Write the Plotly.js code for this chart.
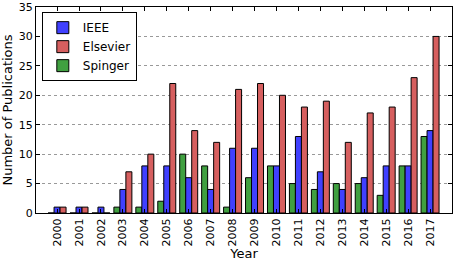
<!DOCTYPE html>
<html>
<head>
<meta charset="utf-8">
<script src="https://cdn.plot.ly/plotly-3.0.1.min.js"></script>
<style>
  html, body { margin: 0; padding: 0; background: #fff; }
  #chart { width: 454px; height: 262px; }
</style>
</head>
<body>
<div id="chart"></div>
<script>
var years = ['2000', '2001', '2002', '2003', '2004', '2005', '2006', '2007', '2008',
             '2009', '2010', '2011', '2012', '2013', '2014', '2015', '2016', '2017'];
var ieee = [1, 1, 1, 4, 8, 8, 6, 4, 11, 11, 8, 13, 7, 4, 6, 8, 8, 14];
var elsevier = [1, 1, 0, 7, 10, 22, 14, 12, 21, 22, 20, 18, 19, 12, 17, 18, 23, 30];
var springer = [0, 0, 0, 1, 1, 2, 10, 8, 1, 6, 8, 5, 4, 5, 5, 3, 8, 13];
var yTicks = [0, 5, 10, 15, 20, 25, 30, 35];

var font = 'DejaVu Sans, sans-serif';

// springer drawn first so it sits on the left of each group
var data = [{
    type: 'bar', name: 'Spinger', x: years, y: springer, legendrank: 3,
    marker: {color: '#40a040', line: {color: '#000', width: 1}}
}, {
    type: 'bar', name: 'IEEE', x: years, y: ieee, legendrank: 1,
    marker: {color: '#4040ff', line: {color: '#000', width: 1}}
}, {
    type: 'bar', name: 'Elsevier', x: years, y: elsevier, legendrank: 2,
    marker: {color: '#d65f5f', line: {color: '#000', width: 1}}
}];

var layout = {
    width: 454, height: 262,
    margin: {l: 36, r: 2, t: 7, b: 49},
    paper_bgcolor: '#fff', plot_bgcolor: '#fff',
    barmode: 'group', bargap: 0.18, bargroupgap: 0,
    font: {family: font, size: 11, color: '#000'},
    showlegend: true,
    legend: {
        x: 0.014, y: 0.975, xanchor: 'left', yanchor: 'top',
        bgcolor: '#fff', bordercolor: '#000', borderwidth: 1,
        font: {family: font, size: 12}, tracegroupgap: 0
    },
    xaxis: {
        type: 'category', range: [-0.96, 18.0],
        tickangle: -90, ticks: 'inside', ticklen: 4, tickcolor: '#000',
        showline: true, linecolor: '#000', linewidth: 1, mirror: 'ticks',
        showgrid: false, tickfont: {family: font, size: 11},
        title: {text: 'Year', font: {family: font, size: 13}, standoff: 2}
    },
    yaxis: {
        range: [0, 35], tickvals: yTicks, ticks: 'inside', ticklen: 4, tickcolor: '#000',
        showline: true, linecolor: '#000', linewidth: 1, mirror: 'ticks',
        showgrid: true, gridcolor: '#999', griddash: 'dot', gridwidth: 1,
        zeroline: false, tickfont: {family: font, size: 11},
        title: {text: 'Number of Publications', font: {family: font, size: 13}, standoff: 4}
    }
};

Plotly.newPlot('chart', data, layout, {staticPlot: true});
</script>
</body>
</html>
